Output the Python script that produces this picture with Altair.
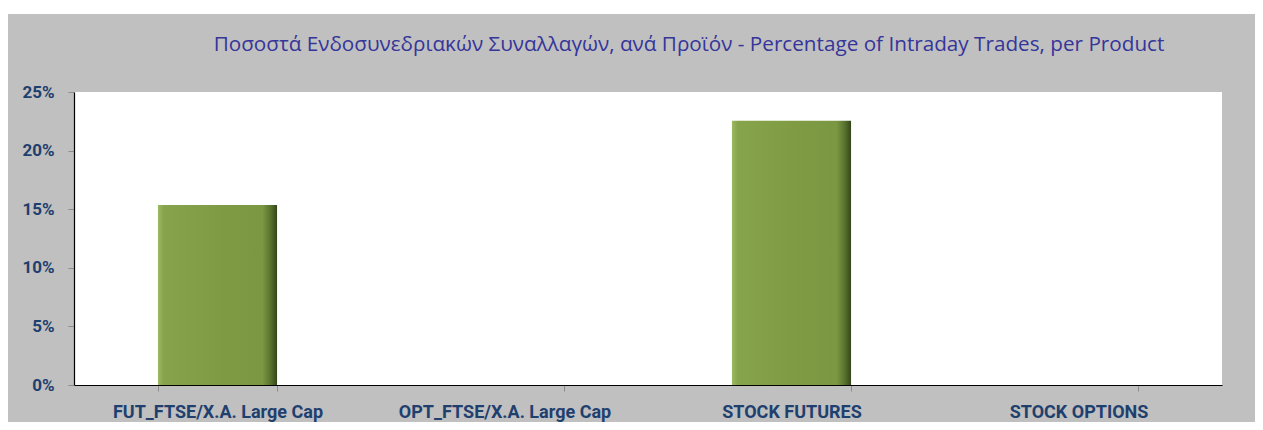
import altair as alt
import pandas as pd

products = ["FUT_FTSE/X.A. Large Cap", "OPT_FTSE/X.A. Large Cap", "STOCK FUTURES", "STOCK OPTIONS"]
shares = [0.1535, 0.0, 0.2255, 0.0]
y_ticks = [0, 0.05, 0.10, 0.15, 0.20, 0.25]
title_text = "Ποσοστά Ενδοσυνεδριακών Συναλλαγών, ανά Προϊόν - Percentage of Intraday Trades, per Product"

df = pd.DataFrame({"product": products, "share": shares})
title_df = pd.DataFrame({"t": [title_text]})

W, H = 1148, 293

bar_fill = alt.Gradient(
    gradient="linear",
    x1=0, x2=1, y1=0, y2=0,
    stops=[
        alt.GradientStop(offset=0.0, color="#9DB962"),
        alt.GradientStop(offset=0.05, color="#86A44C"),
        alt.GradientStop(offset=0.5, color="#7F9C45"),
        alt.GradientStop(offset=0.88, color="#7A9741"),
        alt.GradientStop(offset=0.95, color="#56702D"),
        alt.GradientStop(offset=1.0, color="#34451B"),
    ],
)

x_enc = alt.X(
    "product:N",
    sort=products,
    title=None,
    scale=alt.Scale(paddingInner=0.585, paddingOuter=0.2925),
    axis=alt.Axis(
        labelAngle=0,
        labelFont="Roboto",
        labelFontSize=18,
        labelFontWeight="bold",
        labelColor="#1F3F6F",
        labelPadding=12,
        labelLimit=400,
        tickBand="extent",
        tickSize=6,
        tickColor="#8C8C8C",
        domainColor="#000000",
        domainWidth=1.2,
    ),
)

y_enc = alt.Y(
    "share:Q",
    title=None,
    scale=alt.Scale(domain=[0, 0.25], nice=False),
    axis=alt.Axis(
        values=y_ticks,
        format=".0%",
        grid=False,
        labelFont="Roboto",
        labelFontSize=17,
        labelFontWeight="bold",
        labelColor="#1F3F6F",
        labelPadding=14,
        tickSize=6,
        tickColor="#8C8C8C",
        domainColor="#000000",
        domainWidth=1.2,
    ),
)

bars = alt.Chart(df).mark_bar(fill=bar_fill).encode(x=x_enc, y=y_enc)

top_strip = alt.Chart(title_df).mark_rect(color="#FFFFFF", clip=False).encode(
    x=alt.value(-70), x2=alt.value(W + 40), y=alt.value(-84), y2=alt.value(-78)
)

title = alt.Chart(title_df).mark_text(
    font="Open Sans",
    fontSize=20.7,
    color="#35359A",
    align="center",
    baseline="alphabetic",
    clip=False,
).encode(text="t:N", x=alt.value(615), y=alt.value(-41))

chart = (
    alt.layer(top_strip, bars, title)
    .properties(
        width=W,
        height=H,
        background="#C0C0C0",
        padding={"left": 66, "top": 84, "right": 33, "bottom": 37},
        autosize=alt.AutoSizeParams(type="none"),
    )
    .configure_view(fill="#FFFFFF", stroke=None)
)

chart.save("out.html", embed_options={"renderer": "svg", "actions": False})
